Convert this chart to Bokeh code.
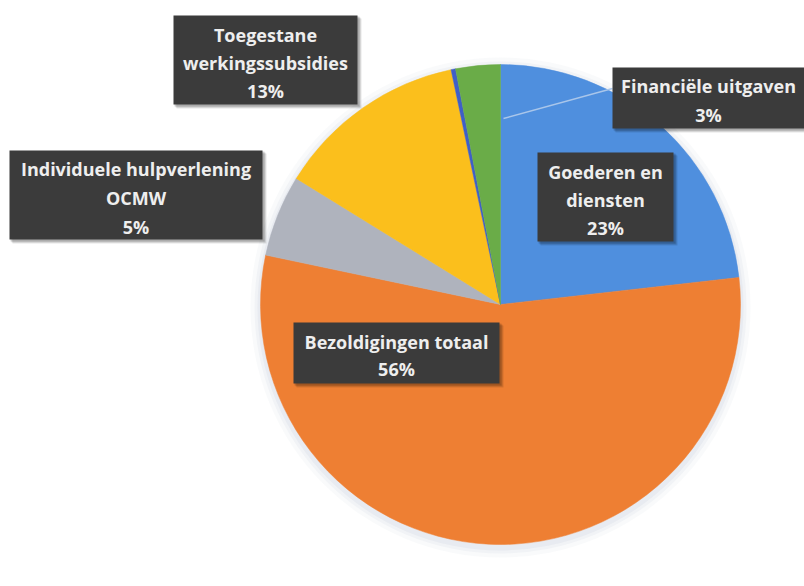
import numpy as np
from bokeh.plotting import figure
from bokeh.models import Range1d, ColumnDataSource
from bokeh.core.properties import value
from bokeh.embed import file_html
from bokeh.resources import INLINE

# ---- data ----
categories = ["Goederen en diensten", "Bezoldigingen totaal", "Individuele hulpverlening OCMW",
              "Toegestane werkingssubsidies", "Overige", "Financiële uitgaven"]
shares = [23.2, 55.1, 5.5, 12.9, 0.3, 3.0]
pct_labels = ["23%", "56%", "5%", "13%", "", "3%"]
label_lines = [["Goederen en", "diensten"], ["Bezoldigingen totaal"], ["Individuele hulpverlening", "OCMW"],
               ["Toegestane", "werkingssubsidies"], [], ["Financiële uitgaven"]]
colors = ["#4f8fde", "#ee7f33", "#afb3bd", "#fbbf1c", "#3f5fc8", "#6aac48"]

W, H = 804, 586
def Y(y):  # reference pixel row -> data y
    return H - y

p = figure(width=W, height=H, output_backend="svg", toolbar_location=None,
           x_range=Range1d(0, W), y_range=Range1d(0, H),
           min_border=0, outline_line_color=None, background_fill_color="white",
           border_fill_color="white")
p.axis.visible = False
p.grid.visible = False

cx, cy, R = 500, Y(304), 240

# soft shadow around pie
for r, a in [(250, 0.06), (246, 0.08), (243, 0.10)]:
    p.circle(x=[cx], y=[cy - 3], radius=r, fill_color="#9aa6c0", fill_alpha=a, line_color=None)

frac = np.array(shares) / sum(shares)
cum = np.concatenate([[0], np.cumsum(frac)])
start = np.pi / 2 - 2 * np.pi * cum[1:]
end = np.pi / 2 - 2 * np.pi * cum[:-1]
src = ColumnDataSource(dict(start=start, end=end, color=colors, cat=categories))
p.wedge(x=cx, y=cy, radius=R, start_angle="start", end_angle="end", direction="anticlock",
        fill_color="color", line_color="color", line_width=0.5, source=src)

# leader line for Financiële uitgaven
p.line(x=[503, 612], y=[Y(118), Y(88)], line_color="#a9c6ea", line_width=1.5)

# label boxes: (x0, y0, x1, y1) in reference pixels, line centre rows
boxes = {
    0: ((537, 152, 673, 241), [171, 199, 227]),
    1: ((293, 322, 499, 383), [341, 368]),
    2: ((9, 150, 262, 239), [168, 197, 226]),
    3: ((173, 15, 357, 104), [34, 62, 90]),
    5: ((612, 67, 804, 128), [85, 114]),
}
for i, ((x0, y0, x1, y1), rows) in boxes.items():
    for off, a in [(4, 0.10), (3, 0.12), (2, 0.15)]:
        p.quad(left=[x0 + off - 1], right=[x1 + off], top=[Y(y0 + off - 1)], bottom=[Y(y1 + off)],
               fill_color="black", fill_alpha=a, line_color=None)
    p.quad(left=[x0], right=[x1], top=[Y(y0)], bottom=[Y(y1)],
           fill_color="#3b3b3b", line_color=None)
    lines = label_lines[i] + [pct_labels[i]]
    xc = (x0 + x1) / 2
    p.text(x=[xc] * len(lines), y=[Y(r) for r in rows], text=lines,
           text_font=value("Open Sans"), text_font_style="bold", text_font_size="18px",
           text_color="#eeeeee", text_align="center", text_baseline="middle")

open("out.html", "w").write(file_html(p, INLINE))
